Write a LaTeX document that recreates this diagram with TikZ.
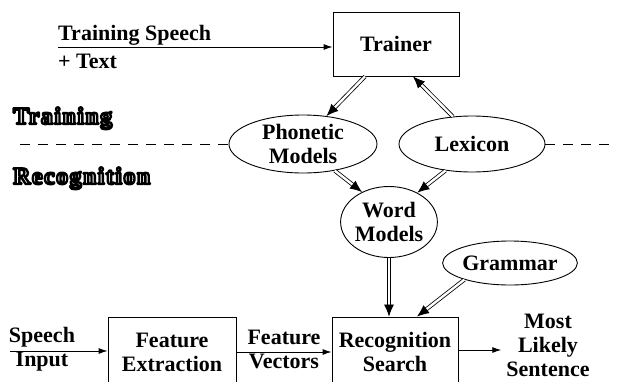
\documentclass[tikz,border=0pt]{standalone}
\usepackage{fontspec}
\setmainfont{Liberation Serif}
\usetikzlibrary{shapes.geometric,arrows.meta}
\tikzset{
  blk/.style={draw, line width=0.9pt, minimum width=126pt, minimum height=64pt, inner sep=0pt, align=center},
  oval/.style={ellipse, draw, line width=0.9pt, inner sep=0pt, align=center},
  lab/.style={inner sep=0pt, align=center},
  phase/.style={inner sep=0pt, anchor=base west, font=\fontsize{24}{26}\selectfont\bfseries\addfontfeatures{LetterSpace=6}},
  sig/.style={line width=0.9pt, -{Latex[length=9pt,width=6pt]}},
  dbl/.style={double, double distance=2.4pt, line width=0.8pt, -{Latex[length=12pt,width=10pt]}},
  sep/.style={line width=0.9pt, dash pattern=on 10pt off 8pt}
}
% hollow letters: white fill, black stroke
\newcommand{\phasetext}[1]{\special{pdf:code q 2 Tr 2.4 w 1 j 1 1 1 rg 0 0 0 RG}#1\special{pdf:code Q}}

\begin{document}
\begin{tikzpicture}[x=1pt, y=-1pt, font=\fontsize{22}{24}\selectfont\bfseries]
  \useasboundingbox (0,0) rectangle (618,381);

  % training side
  \node[blk] (trainer) at (396,44) {Trainer};
  \node[lab, anchor=base west] (trspeech) at (58,40) {Training Speech};
  \node[lab, anchor=base west] (trtext) at (58,68) {+ Text};
  \coordinate (trin) at (58,47);
  \draw[sig] (trin) -- (trin -| trainer.west);

  \node[phase] (phtrain) at (13,124) {\phasetext{Training}};
  \node[phase] (phrec) at (13,184) {\phasetext{Recognition}};

  % models
  \node[oval, minimum width=148pt, minimum height=58pt] (phon) at (303,144) {Phonetic\\Models};
  \node[oval, minimum width=146pt, minimum height=56pt] (lex) at (472,144) {Lexicon};
  \node[oval, minimum width=94pt, minimum height=71pt] (word) at (389,222) {Word\\Models};
  \node[oval, minimum width=128pt, minimum height=44pt] (gram) at (510,263) {Grammar};

  % dashed split between the two phases
  \coordinate (sepl) at (20,144);
  \coordinate (sepr) at (616,144);
  \draw[sep] (sepl) -- (phon.west);
  \draw[sep] (lex.east) -- (sepr);

  \draw[dbl] ([xshift=-31pt]trainer.south) -- (phon.50);
  \draw[dbl] (lex.125) -- ([xshift=17pt]trainer.south);
  \draw[dbl] (phon.320) -- (word.132);
  \draw[dbl] (lex.225) -- (word.46);

  % recognition chain
  \node[blk, minimum width=128pt, minimum height=70pt] (feat) at (172,352) {Feature\\Extraction};
  \node[blk, minimum height=70pt] (search) at (395,352) {Recognition\\Search};
  \node[lab] (spin) at (42,349) {Speech\\Input};
  \node[lab] (fvec) at (284,349) {Feature\\Vectors};
  \node[lab, inner xsep=5pt] (best) at (548,345) {Most\\Likely\\Sentence};

  \coordinate (spstart) at (10,351);
  \draw[sig] (spstart) -- (spstart -| feat.west);
  \draw[sig] (feat.east) -- (search.west);
  \draw[sig] ([yshift=2pt]search.east) -- ([yshift=2pt]search.east -| best.west);

  \draw[dbl] (word.south) -- (word.south |- search.north);
  \draw[dbl] (gram.200) -- ([xshift=22pt]search.north);
\end{tikzpicture}
\end{document}
